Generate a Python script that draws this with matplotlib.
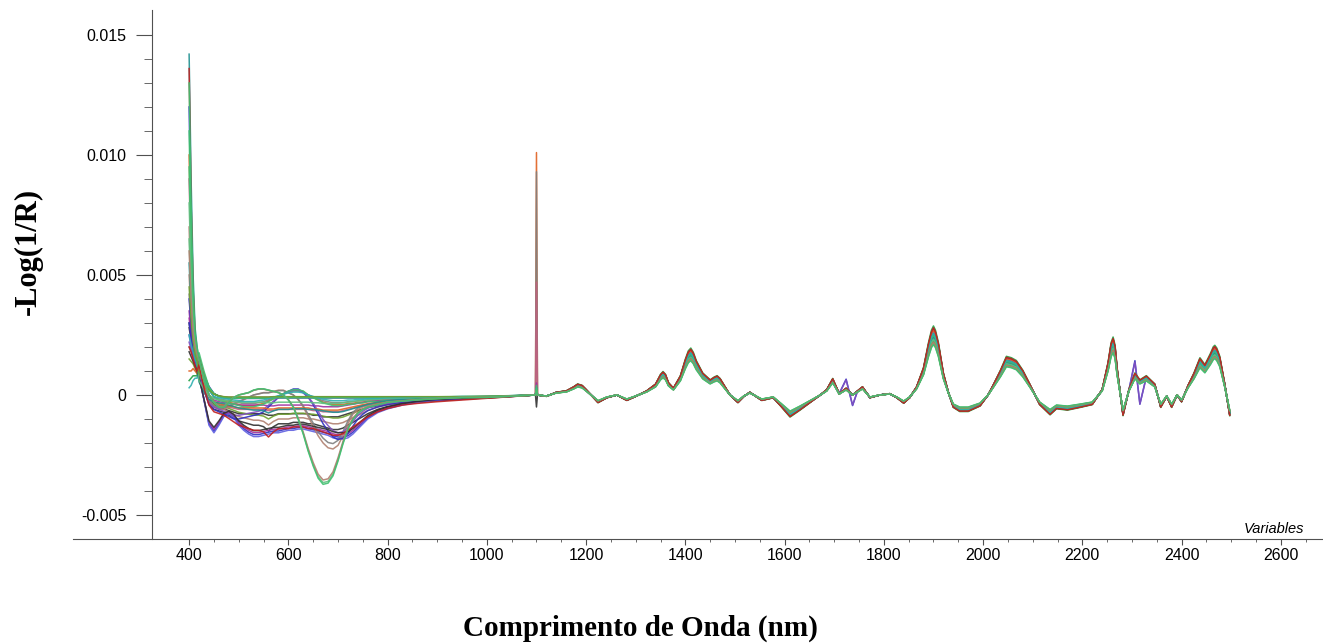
import numpy as np
import matplotlib
matplotlib.use("Agg")
import matplotlib.pyplot as plt
from matplotlib.ticker import FixedLocator

# ---- data (values in units of 1e-3) ----
# visible region, 420..1098 nm
vis_wl = [420, 430, 440, 450, 460,
          470, 480, 490, 500, 510,
          520, 530, 540, 550, 560,
          570, 580, 590, 600, 610,
          620, 630, 640, 650, 660,
          670, 680, 690, 700, 710,
          720, 730, 740, 750, 760,
          780, 800, 830, 860, 900,
          950, 1000, 1050, 1098]
head_wl = [400, 404, 408, 412, 416]

vis_flat = [1.3, 0.7, 0.3, 0.05, -0.05,
            -0.1, -0.12, -0.12, -0.12, -0.12,
            -0.12, -0.12, -0.12, -0.12, -0.12,
            -0.1, -0.1, -0.1, -0.1, -0.1,
            -0.1, -0.1, -0.1, -0.1, -0.1,
            -0.1, -0.1, -0.1, -0.1, -0.1,
            -0.1, -0.1, -0.1, -0.1, -0.1,
            -0.1, -0.1, -0.1, -0.1, -0.1,
            -0.1, -0.08, -0.05, 0.0]
vis_bump = [1.6, 0.9, 0.3, -0.1, -0.2,
            -0.25, -0.3, -0.35, -0.4, -0.45,
            -0.45, -0.45, -0.4, -0.35, -0.25,
            -0.15, -0.05, 0.05, 0.15, 0.2,
            0.2, 0.15, 0.0, -0.1, -0.2,
            -0.3, -0.35, -0.4, -0.4, -0.4,
            -0.35, -0.35, -0.3, -0.3, -0.25,
            -0.25, -0.2, -0.2, -0.15, -0.15,
            -0.1, -0.1, -0.05, 0.0]
vis_low = [1.2, 0.5, 0.0, -0.3, -0.4,
           -0.45, -0.5, -0.55, -0.6, -0.6,
           -0.6, -0.6, -0.6, -0.6, -0.65,
           -0.65, -0.6, -0.6, -0.6, -0.6,
           -0.6, -0.6, -0.6, -0.65, -0.65,
           -0.7, -0.7, -0.7, -0.7, -0.65,
           -0.6, -0.55, -0.5, -0.45, -0.4,
           -0.35, -0.3, -0.25, -0.2, -0.15,
           -0.12, -0.1, -0.05, 0.0]
vis_mid = [0.9, 0.2, -0.3, -0.5, -0.55,
           -0.6, -0.7, -0.8, -0.9, -0.95,
           -1.0, -1.05, -1.05, -1.1, -1.25,
           -1.1, -1.0, -1.0, -1.0, -0.95,
           -0.95, -0.95, -1.0, -1.0, -1.05,
           -1.1, -1.15, -1.2, -1.2, -1.15,
           -1.05, -0.95, -0.85, -0.75, -0.65,
           -0.5, -0.4, -0.3, -0.25, -0.2,
           -0.15, -0.1, -0.05, 0.0]
vis_deep = [0.8, -0.2, -1.2, -1.5, -1.2,
            -0.85, -0.75, -0.9, -1.2, -1.4,
            -1.55, -1.65, -1.65, -1.6, -1.55,
            -1.5, -1.5, -1.45, -1.4, -1.4,
            -1.35, -1.35, -1.4, -1.45, -1.5,
            -1.55, -1.6, -1.7, -1.75, -1.75,
            -1.7, -1.55, -1.35, -1.15, -0.95,
            -0.7, -0.55, -0.4, -0.3, -0.2,
            -0.15, -0.1, -0.05, 0.0]
vis_green = [1.5, 0.6, 0.0, -0.3, -0.5,
             -0.5, -0.3, -0.1, 0.0, 0.05,
             0.1, 0.2, 0.25, 0.25, 0.2,
             0.15, 0.1, 0.0, -0.2, -0.5,
             -1.0, -1.6, -2.3, -2.9, -3.4,
             -3.65, -3.6, -3.3, -2.7, -2.0,
             -1.4, -1.0, -0.75, -0.6, -0.5,
             -0.4, -0.3, -0.25, -0.2, -0.15,
             -0.1, -0.1, -0.05, 0.0]
vis_brown = [1.0, 0.3, -0.2, -0.5, -0.6,
             -0.6, -0.5, -0.4, -0.3, -0.2,
             -0.1, 0.0, 0.05, 0.1, 0.1,
             0.15, 0.2, 0.2, 0.1, 0.0,
             -0.2, -0.5, -0.9, -1.3, -1.7,
             -2.0, -2.2, -2.25, -2.1, -1.7,
             -1.2, -0.8, -0.6, -0.5, -0.45,
             -0.35, -0.3, -0.25, -0.2, -0.15,
             -0.12, -0.1, -0.05, 0.0]
vis_blue = [1.0, 0.2, -0.4, -0.6, -0.7,
            -0.8, -0.9, -1.0, -1.0, -0.95,
            -0.9, -0.85, -0.8, -0.7, -0.5,
            -0.3, -0.1, 0.05, 0.15, 0.25,
            0.25, 0.1, -0.1, -0.4, -0.8,
            -1.2, -1.5, -1.75, -1.85, -1.8,
            -1.6, -1.3, -1.0, -0.8, -0.65,
            -0.5, -0.4, -0.3, -0.25, -0.2,
            -0.15, -0.1, -0.05, 0.0]
vis_groups = {"flat": vis_flat, "bump": vis_bump, "low": vis_low, "mid": vis_mid,
              "deep": vis_deep, "green": vis_green, "brown": vis_brown, "blue": vis_blue}

# NIR region, 1102..2497 nm
nir_wl = [1102, 1120, 1140, 1160, 1175, 1183, 1192, 1200, 1224, 1242, 1262, 1282,
          1300, 1322, 1340, 1350, 1355, 1360, 1366, 1376, 1390, 1400, 1406, 1411, 1416, 1422,
          1435, 1450, 1458, 1464, 1470, 1475, 1490, 1506, 1518, 1530, 1542, 1554,
          1566, 1577, 1592, 1611, 1631, 1657, 1672, 1685, 1697, 1710,
          1724, 1737, 1747, 1757, 1772, 1792, 1812, 1826, 1840, 1852,
          1866, 1880, 1890, 1896, 1900, 1904, 1910, 1920, 1930, 1940, 1953, 1970,
          1994, 2010, 2020, 2035, 2047, 2057, 2067, 2080, 2094, 2114,
          2135, 2148, 2170, 2196, 2220, 2240, 2252, 2258, 2262, 2266, 2270, 2282,
          2294, 2306, 2316, 2329, 2346, 2358, 2370, 2380, 2391, 2400,
          2413, 2425, 2437, 2447, 2458, 2464, 2467, 2471, 2477, 2487, 2497]
nir_mean = [0.0, -0.05, 0.1, 0.15, 0.3, 0.4, 0.35, 0.2, -0.28, -0.1, 0.0, -0.2,
            -0.05, 0.15, 0.4, 0.75, 0.85, 0.75, 0.45, 0.25, 0.7, 1.3, 1.6, 1.7, 1.55, 1.25,
            0.8, 0.55, 0.65, 0.7, 0.6, 0.45, 0.0, -0.28, -0.05, 0.1, -0.05, -0.2,
            -0.15, -0.1, -0.4, -0.8, -0.55, -0.2, 0.0, 0.2, 0.6, 0.05,
            0.25, 0.0, 0.15, 0.3, -0.1, 0.0, 0.05, -0.1, -0.3, -0.1,
            0.3, 1.0, 1.9, 2.35, 2.5, 2.35, 1.9, 0.8, 0.1, -0.45, -0.6, -0.6,
            -0.4, 0.0, 0.35, 0.9, 1.4, 1.35, 1.25, 0.9, 0.4, -0.35,
            -0.72, -0.5, -0.55, -0.45, -0.35, 0.2, 1.2, 1.9, 2.1, 1.8, 1.0, -0.75,
            0.2, 0.8, 0.55, 0.7, 0.4, -0.45, -0.05, -0.45, 0.0, -0.25,
            0.35, 0.8, 1.35, 1.1, 1.5, 1.75, 1.8, 1.7, 1.4, 0.4, -0.75]
# a few samples have sharper bands near 1730 and 2310 nm
nir_sharp_edits = {1724: 0.6, 1737: -0.4, 2306: 1.3, 2316: -0.35}

# samples: group, visible scale, NIR amplitude, value at 1100 nm, first points 400-416 nm, colour
sample_group = ["flat", "flat", "flat", "bump", "bump", "low", "low", "low",
                "mid", "mid", "mid", "deep", "deep", "deep", "brown", "brown",
                "blue", "blue", "flat", "flat", "bump", "low", "mid", "deep",
                "flat", "low", "bump", "flat", "mid", "green", "green", "green"]
sample_scale = [1.0, 0.8, 1.2, 1.0, 0.8, 1.0, 0.7, 1.3,
                1.0, 1.2, 0.8, 1.0, 0.95, 1.05, 1.0, 0.9,
                1.0, 0.85, 1.0, 0.9, 1.1, 0.9, 0.6, 0.9,
                1.1, 0.5, 0.6, 0.7, 1.4, 1.0, 0.97, 1.02]
sample_amp = [1.0, 0.95, 1.05, 1.1, 0.9, 1.0, 1.05, 0.95,
              1.0, 1.1, 0.9, 1.0, 1.05, 0.95, 1.05, 1.0,
              1.1, 1.05, 1.15, 0.92, 1.0, 1.08, 0.97, 1.02,
              1.0, 0.93, 1.03, 0.88, 1.12, 0.85, 0.88, 0.84]
sample_spike = [0.3, 0.1, 0.2, 10.1, 9.3, 4.7, 0.5, -0.5,
                0.2, 0.3, 0.1, 0.2, 0.1, 0.3, 0.2, 0.1,
                0.2, 0.1, 0.2, 0.3, 0.4, 0.1, 0.2, 0.2,
                0.3, 0.2, 0.1, 0.2, 0.1, 0.2, 0.1, 0.2]
sample_head = [[14.2, 9.0, 5.0, 2.8, 2.0], [13.6, 8.0, 4.4, 2.5, 1.8], [12.0, 7.0, 3.8, 2.2, 1.7],
               [10.0, 6.0, 3.4, 2.0, 1.6], [4.2, 3.0, 2.2, 1.7, 1.4], [9.0, 5.4, 3.0, 1.9, 1.5],
               [3.5, 2.6, 2.0, 1.6, 1.3], [2.8, 2.3, 1.9, 1.5, 1.3], [7.0, 4.2, 2.6, 1.7, 1.3],
               [3.0, 2.4, 1.9, 1.4, 1.1], [1.5, 1.4, 1.3, 1.1, 0.9], [4.0, 2.9, 2.1, 1.6, 1.2],
               [3.2, 2.5, 1.9, 1.4, 1.1], [2.5, 2.0, 1.6, 1.3, 1.0], [5.0, 3.4, 2.4, 1.7, 1.3],
               [2.0, 1.8, 1.6, 1.3, 1.1], [3.0, 2.4, 1.8, 1.4, 1.1], [2.2, 1.9, 1.6, 1.3, 1.0],
               [0.6, 0.7, 0.8, 0.8, 0.8], [0.3, 0.4, 0.6, 0.7, 0.7], [11.0, 6.5, 3.6, 2.1, 1.6],
               [1.0, 1.0, 1.1, 1.0, 0.9], [5.5, 3.6, 2.4, 1.6, 1.2], [1.8, 1.6, 1.4, 1.2, 1.0],
               [9.5, 5.8, 3.2, 2.0, 1.5], [6.5, 4.0, 2.5, 1.7, 1.4], [2.5, 2.1, 1.8, 1.5, 1.3],
               [4.5, 3.2, 2.3, 1.7, 1.4], [2.0, 1.8, 1.5, 1.2, 1.0], [8.0, 5.0, 3.0, 2.2, 1.8],
               [6.0, 4.0, 2.6, 2.0, 1.7], [13.0, 8.0, 4.5, 2.6, 2.0]]
sample_color = ["#209090", "#c02020", "#3030c0", "#e06020", "#808080", "#c06080", "#a030a0", "#303030",
                "#b08070", "#303030", "#70a030", "#3030c0", "#a030a0", "#6060e0", "#b08070", "#808080",
                "#3030c0", "#8050c0", "#20a040", "#30b0b0", "#40c070", "#e06020", "#209090", "#303030",
                "#40c070", "#60c080", "#30b0b0", "#70a030", "#c02020", "#60c080", "#b08070", "#40c070"]
sharp_samples = [16, 17]

# ---- figure ----
W, H = 1323, 643
fig = plt.figure(figsize=(W / 100, H / 100), dpi=100)
ax = fig.add_axes([73 / W, (H - 539) / H, (W - 73) / W, (539 - 10) / H])

for i in range(len(sample_group)):
    vis = [v * sample_scale[i] for v in vis_groups[sample_group[i]]]
    nir = list(nir_mean)
    if i in sharp_samples:
        for k, v in nir_sharp_edits.items():
            nir[nir_wl.index(k)] = v
    nir = [v * sample_amp[i] for v in nir]
    wl = head_wl + vis_wl + [1100] + nir_wl
    val = sample_head[i] + vis + [sample_spike[i]] + nir
    ax.plot(wl, np.array(val) * 1e-3, color=sample_color[i], lw=1.1, alpha=0.9)

ax.set_xlim(166, 2685)
ax.set_ylim(-0.006, 0.01604)

axcol = "#505050"
for s in ["top", "right"]:
    ax.spines[s].set_visible(False)
ax.spines["left"].set_position(("data", 325))
ax.spines["left"].set_color(axcol)
ax.spines["bottom"].set_color(axcol)

ax.xaxis.set_major_locator(FixedLocator(np.arange(400, 2601, 200)))
ax.xaxis.set_minor_locator(FixedLocator([x for x in range(450, 2651, 50) if x % 200 != 0]))
ax.yaxis.set_major_locator(FixedLocator([-0.005, 0, 0.005, 0.010, 0.015]))
ax.yaxis.set_minor_locator(FixedLocator([v / 1000 for v in range(-4, 15) if v % 5 != 0]))
ax.set_yticklabels(["-0.005", "0", "0.005", "0.010", "0.015"])

for lab in ax.get_xticklabels() + ax.get_yticklabels():
    lab.set_fontfamily("Liberation Sans")
    lab.set_fontsize(11.5)
ax.tick_params(axis="x", which="major", direction="out", length=4.3, color=axcol, pad=2)
ax.tick_params(axis="x", which="minor", direction="out", length=2, color=axcol)
ax.tick_params(axis="y", which="major", direction="out", length=11.5, color=axcol, pad=7)
ax.tick_params(axis="y", which="minor", direction="out", length=5.8, color=axcol)

fig.text(1304 / W, 1 - 533 / H, "Variables", ha="right", va="baseline",
         fontsize=10.5, style="italic", family="Liberation Sans")
fig.text(640 / W, 1 - 636 / H, "Comprimento de Onda (nm)", ha="center", va="baseline",
         fontsize=21, fontweight="bold", family="Liberation Serif")
fig.text(28 / W, 1 - 251 / H, "-Log(1/R)", ha="center", va="center", rotation=90,
         fontsize=22, fontweight="bold", family="Liberation Serif")

fig.savefig("out.png", dpi=100)
